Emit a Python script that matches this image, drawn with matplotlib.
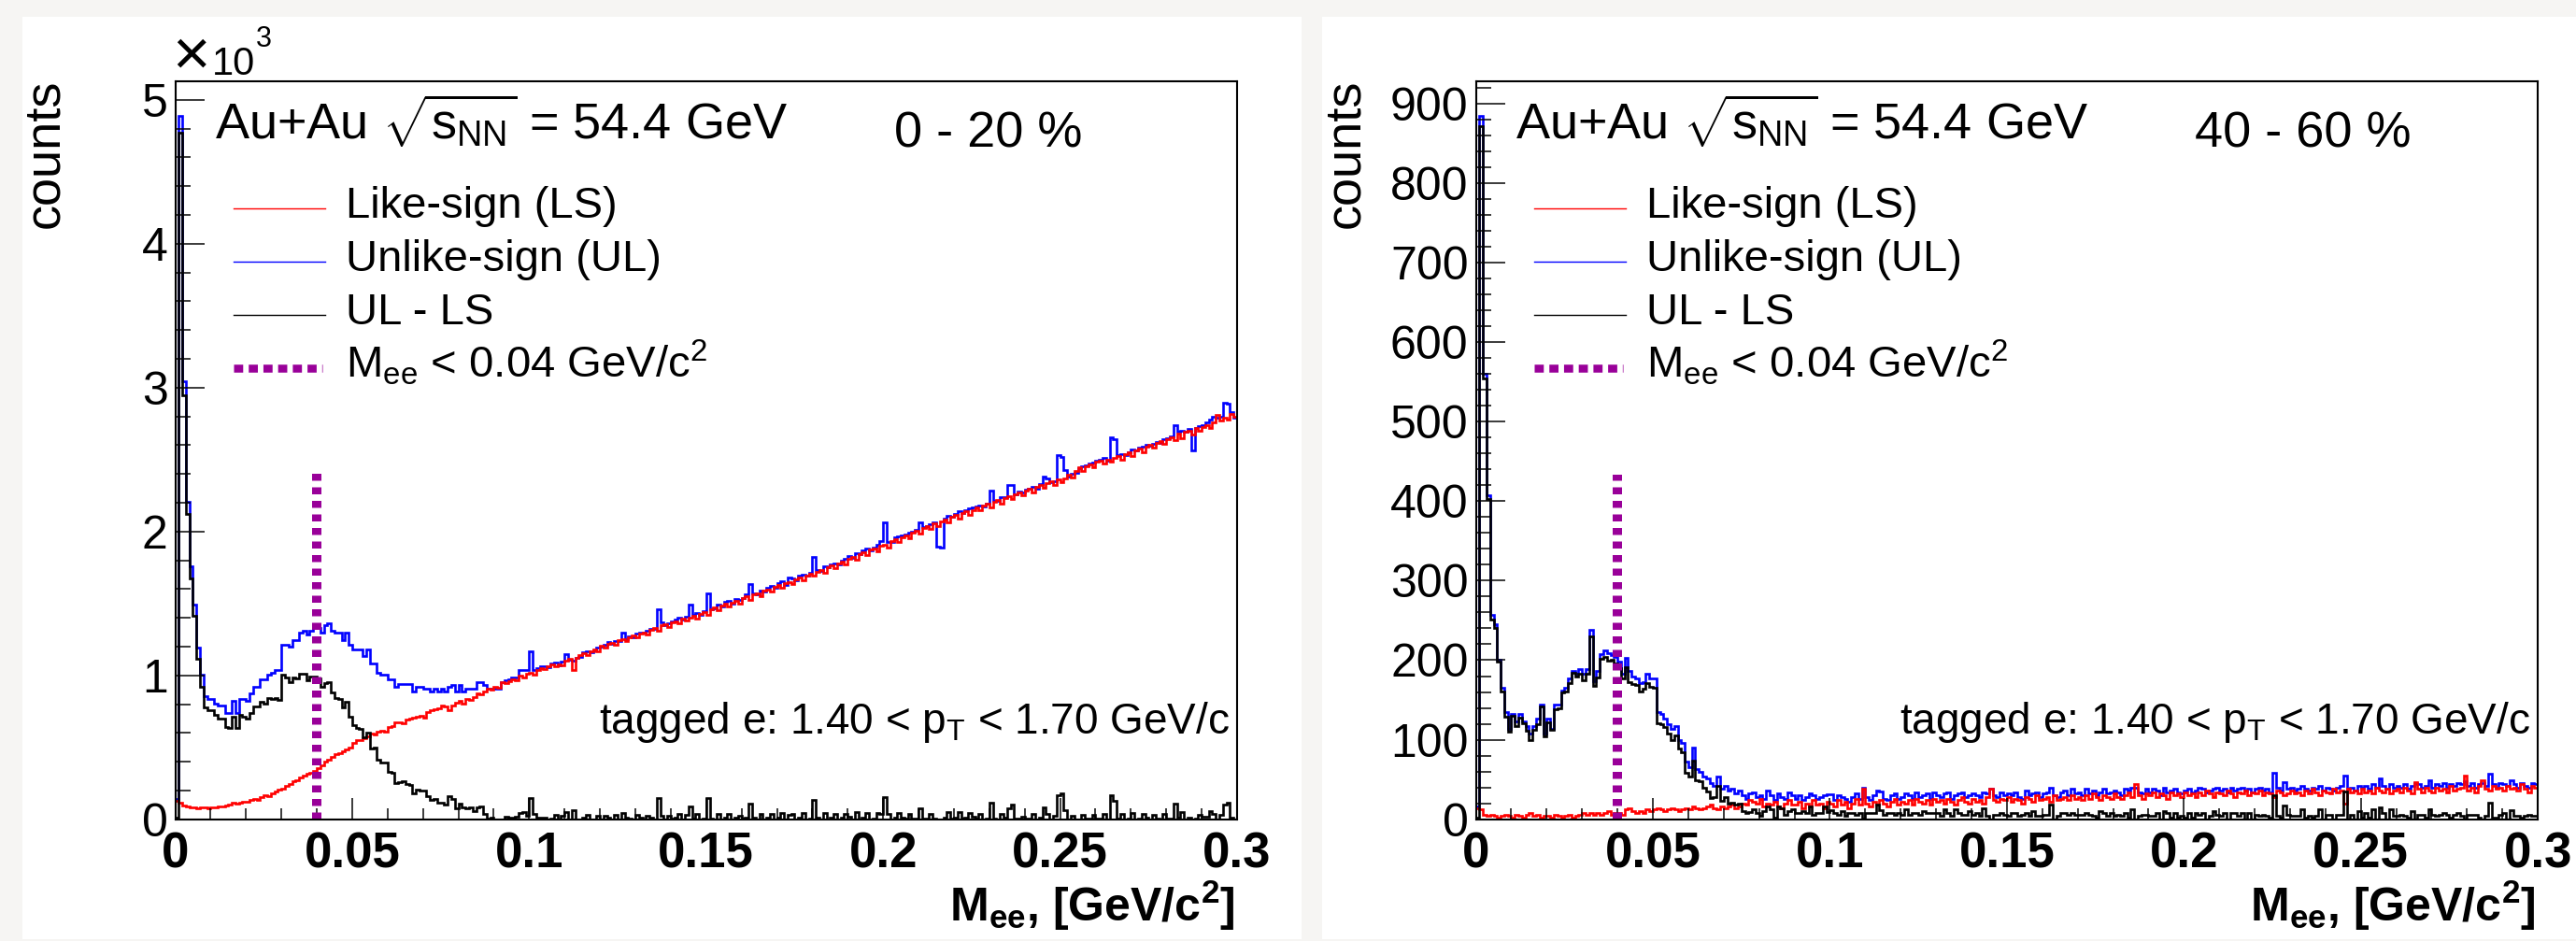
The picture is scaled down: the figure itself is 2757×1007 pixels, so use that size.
import numpy as np
import matplotlib
matplotlib.use("Agg")
import matplotlib.pyplot as plt
from matplotlib.patches import Rectangle
from matplotlib.ticker import MultipleLocator

# ---------------------------------------------------------------------------
# M_ee spectra, 300 bins of 1 MeV/c^2 from 0 to 0.3 GeV/c^2
# ---------------------------------------------------------------------------
mee_lo, mee_hi, n_bins = 0.0, 0.3, 300

# 0-20 % centrality
ls_central = [
    130, 118, 96, 88, 84, 80, 78, 82, 80, 78,
    84, 82, 88, 92, 98, 104, 112, 108, 116, 124,
    122, 132, 140, 136, 156, 166, 160, 182, 194, 204,
    210, 230, 248, 264, 270, 288, 302, 318, 324, 336,
    352, 374, 398, 412, 434, 454, 462, 470, 482, 500,
    530, 548, 552, 562, 578, 596, 590, 606, 612, 608,
    642, 648, 672, 676, 670, 690, 700, 706, 712, 720,
    708, 744, 756, 762, 772, 790, 786, 760, 790, 812,
    820, 806, 834, 828, 850, 872, 866, 890, 906, 898,
    918, 912, 950, 944, 962, 974, 968, 996, 986, 1012,
    1018, 1004, 1036, 1050, 1046, 1066, 1074, 1060, 1078, 1072,
    1100, 1112, 1040, 1124, 1140, 1152, 1138, 1170, 1182, 1164,
    1204, 1190, 1216, 1228, 1212, 1244, 1254, 1236, 1266, 1276,
    1262, 1292, 1300, 1284, 1318, 1330, 1312, 1346, 1354, 1336,
    1370, 1378, 1362, 1396, 1380, 1404, 1414, 1396, 1428, 1440,
    1422, 1456, 1470, 1452, 1482, 1496, 1478, 1506, 1518, 1500,
    1536, 1548, 1526, 1560, 1570, 1552, 1590, 1598, 1580, 1614,
    1628, 1606, 1640, 1650, 1632, 1668, 1680, 1658, 1694, 1708,
    1690, 1720, 1734, 1714, 1754, 1762, 1744, 1778, 1790, 1770,
    1812, 1824, 1802, 1844, 1858, 1836, 1872, 1884, 1864, 1898,
    1910, 1890, 1934, 1946, 1924, 1960, 1974, 1952, 1994, 2006,
    1986, 2024, 2036, 2016, 2054, 2040, 2070, 2080, 2062, 2100,
    2112, 2090, 2126, 2140, 2118, 2150, 2166, 2146, 2178, 2190,
    2168, 2206, 2218, 2196, 2230, 2244, 2224, 2258, 2270, 2250,
    2286, 2296, 2274, 2310, 2322, 2302, 2334, 2346, 2326, 2360,
    2340, 2370, 2392, 2376, 2420, 2444, 2418, 2456, 2466, 2448,
    2484, 2494, 2470, 2500, 2488, 2512, 2524, 2500, 2536, 2548,
    2526, 2562, 2574, 2552, 2588, 2600, 2580, 2616, 2628, 2606,
    2644, 2656, 2634, 2680, 2650, 2690, 2702, 2676, 2716, 2700,
    2724, 2740, 2722, 2760, 2812, 2772, 2790, 2776, 2818, 2800,
]
ul_central = [
    140, 4886, 3041, 2207, 1755, 1493, 1192, 1002, 856, 839,
    839, 806, 790, 790, 741, 741, 823, 741, 839, 839,
    823, 872, 921, 921, 970, 970, 1003, 1019, 1035, 1035,
    1215, 1215, 1199, 1248, 1248, 1297, 1313, 1281, 1313, 1330,
    1330, 1297, 1346, 1363, 1313, 1297, 1297, 1248, 1297, 1215,
    1183, 1183, 1183, 1134, 1183, 1085, 1085, 1019, 1003, 1003,
    970, 970, 921, 937, 937, 937, 937, 888, 921, 921,
    905, 905, 888, 905, 888, 905, 888, 921, 930, 887,
    930, 887, 909, 909, 909, 952, 952, 930, 909, 909,
    909, 909, 950, 963, 975, 985, 985, 1039, 1039, 1039,
    1168, 1040, 1050, 1062, 1060, 1058, 1080, 1090, 1070, 1094,
    1150, 1110, 1104, 1120, 1130, 1160, 1170, 1158, 1176, 1190,
    1200, 1214, 1230, 1218, 1240, 1236, 1300, 1250, 1270, 1262,
    1290, 1300, 1296, 1310, 1326, 1322, 1462, 1370, 1350, 1362,
    1376, 1390, 1400, 1388, 1410, 1490, 1420, 1430, 1418, 1446,
    1572, 1460, 1464, 1490, 1480, 1508, 1516, 1500, 1530, 1524,
    1540, 1560, 1636, 1570, 1566, 1590, 1584, 1610, 1620, 1608,
    1640, 1652, 1630, 1680, 1672, 1660, 1690, 1700, 1690, 1712,
    1826, 1730, 1728, 1760, 1750, 1774, 1780, 1772, 1800, 1810,
    1830, 1818, 1850, 1840, 1866, 1880, 1870, 1890, 1910, 1936,
    2064, 1930, 1928, 1960, 1966, 1970, 1980, 1990, 2000, 2010,
    2062, 2030, 2040, 2050, 2060, 1892, 1890, 2090, 2110, 2104,
    2120, 2140, 2130, 2150, 2160, 2168, 2172, 2180, 2176, 2196,
    2284, 2210, 2214, 2236, 2240, 2320, 2326, 2260, 2276, 2270,
    2290, 2300, 2310, 2300, 2330, 2384, 2370, 2340, 2350, 2530,
    2520, 2430, 2380, 2400, 2410, 2440, 2450, 2460, 2470, 2480,
    2490, 2500, 2510, 2490, 2652, 2640, 2530, 2540, 2530, 2550,
    2570, 2560, 2580, 2590, 2600, 2596, 2610, 2620, 2616, 2640,
    2650, 2660, 2740, 2690, 2700, 2690, 2710, 2560, 2720, 2730,
    2740, 2760, 2780, 2800, 2790, 2800, 2893, 2890, 2830, 2790,
]

# 40-60 % centrality
ls_periph = [
    14, 12, 6, 4, 6, 4, 2, 4, 6, 4,
    2, 6, 4, 2, 6, 8, 4, 6, 2, 4,
    4, 2, 6, 4, 2, 4, 6, 2, 4, 6,
    8, 6, 8, 6, 8, 6, 8, 10, 6, 8,
    8, 6, 12, 14, 10, 8, 10, 8, 12, 10,
    12, 14, 12, 10, 12, 14, 12, 10, 12, 14,
    12, 16, 14, 12, 14, 16, 18, 14, 12, 16,
    14, 16, 18, 14, 16, 20, 18, 24, 22, 20,
    26, 16, 20, 18, 22, 16, 14, 20, 24, 18,
    18, 22, 14, 20, 16, 24, 18, 20, 14, 22,
    20, 16, 24, 18, 22, 14, 20, 26, 18, 39,
    20, 16, 22, 18, 24, 20, 16, 22, 26, 18,
    22, 20, 24, 18, 26, 22, 20, 24, 18, 26,
    22, 24, 20, 26, 22, 18, 24, 28, 22, 20,
    26, 22, 24, 20, 28, 39, 24, 22, 26, 24,
    28, 22, 26, 24, 20, 28, 26, 22, 30, 24,
    26, 28, 22, 30, 24, 26, 28, 24, 30, 26,
    28, 24, 30, 26, 32, 28, 24, 30, 28, 26,
    32, 28, 26, 30, 34, 28, 44, 30, 26, 32,
    30, 34, 28, 32, 30, 26, 34, 30, 32, 28,
    34, 30, 32, 28, 34, 30, 36, 32, 28, 34,
    32, 30, 36, 32, 28, 34, 32, 36, 30, 34,
    32, 36, 30, 34, 32, 28, 36, 34, 30, 32,
    36, 32, 34, 30, 36, 32, 38, 34, 30, 36,
    34, 32, 38, 34, 36, 20, 38, 34, 36, 32,
    38, 34, 36, 32, 40, 36, 34, 38, 32, 36,
    38, 34, 40, 36, 32, 47, 38, 34, 40, 36,
    34, 40, 36, 38, 34, 42, 36, 38, 40, 55,
    36, 40, 34, 42, 49, 38, 36, 42, 38, 40,
    36, 42, 38, 40, 36, 44, 38, 34, 42, 40,
]
ul_periph = [
    16, 884, 560, 407, 257, 245, 200, 165, 135, 114,
    132, 123, 132, 123, 117, 108, 117, 126, 144, 108,
    126, 114, 144, 144, 162, 165, 177, 186, 183, 189,
    183, 189, 238, 174, 186, 208, 212, 209, 206, 204,
    198, 183, 203, 186, 180, 177, 171, 172, 183, 177,
    177, 135, 132, 126, 120, 114, 117, 99, 96, 72,
    66, 90, 63, 60, 54, 51, 45, 42, 54, 39,
    42, 36, 39, 33, 36, 30, 26, 33, 34, 28,
    30, 26, 36, 30, 24, 32, 28, 26, 34, 30,
    26, 30, 24, 28, 32, 30, 26, 28, 30, 31,
    31, 24, 30, 28, 26, 22, 28, 32, 26, 40,
    28, 24, 30, 36, 35, 26, 24, 30, 32, 26,
    28, 32, 30, 26, 34, 28, 30, 32, 26, 34,
    30, 28, 32, 34, 26, 30, 32, 34, 28, 30,
    32, 30, 28, 34, 32, 38, 30, 28, 34, 30,
    32, 30, 34, 28, 26, 36, 30, 32, 34, 28,
    32, 34, 40, 30, 28, 34, 36, 30, 38, 32,
    34, 30, 38, 32, 36, 30, 34, 38, 32, 34,
    36, 34, 30, 38, 36, 40, 40, 34, 32, 38,
    34, 38, 36, 30, 40, 34, 36, 38, 34, 32,
    36, 38, 34, 36, 40, 38, 34, 36, 38, 40,
    36, 38, 34, 40, 36, 38, 40, 36, 38, 34,
    38, 40, 36, 38, 34, 58, 40, 36, 47, 38,
    40, 36, 38, 42, 38, 36, 40, 38, 42, 36,
    40, 38, 36, 40, 42, 55, 38, 40, 36, 42,
    40, 42, 38, 44, 40, 51, 42, 38, 44, 40,
    42, 40, 44, 38, 42, 46, 44, 40, 42, 49,
    40, 44, 42, 46, 40, 44, 42, 46, 44, 48,
    42, 46, 40, 44, 46, 42, 57, 44, 40, 46,
    44, 42, 49, 44, 40, 46, 42, 40, 46, 44,
]

# top of the M_ee < 0.04 cut marker, in counts
cut_mee = 0.04
cut_top = [2400, 433]

centralities = ["0 - 20 %", "40 - 60 %"]
x_ticks = [0.0, 0.05, 0.1, 0.15, 0.2, 0.25, 0.3]
x_ticklabels = ["0", "0.05", "0.1", "0.15", "0.2", "0.25", "0.3"]
y_ticks = [[0, 1000, 2000, 3000, 4000, 5000], list(range(0, 1000, 100))]
y_ticklabels = [["0", "1", "2", "3", "4", "5"], [str(v) for v in range(0, 1000, 100)]]
y_minor = [200, 20]
legend_labels = ["Like-sign (LS)", "Unlike-sign (UL)", "UL - LS",
                 r"M$_{ee}$ < 0.04 GeV/c$^{2}$"]

# ---------------------------------------------------------------------------
W, H, DPI = 2757, 1007, 100
AX_BOTTOM, AX_TOP = 876.7, 86.7
AX_W = 1136.5
AX_H = AX_BOTTOM - AX_TOP
panel_left = [187.5, 1579.6]

C_LS, C_UL, C_SUB, C_CUT = "#ff0000", "#0000ff", "#000000", "#990099"
BG = "#f6f5f3"

plt.rcParams["font.family"] = ["Liberation Sans", "DejaVu Sans"]
plt.rcParams["mathtext.fontset"] = "custom"
plt.rcParams["mathtext.rm"] = "Liberation Sans"
plt.rcParams["mathtext.it"] = "Liberation Sans"
plt.rcParams["mathtext.bf"] = "Liberation Sans:bold"
plt.rcParams["axes.linewidth"] = 1.5

PT = 72.0 / DPI  # points per pixel
HIST_LW = 1.9

fig = plt.figure(figsize=(W / DPI, H / DPI), dpi=DPI, facecolor=BG)

# white canvases behind each pad
for x0, x1 in [(24, 1393), (1415, 2757)]:
    fig.patches.append(Rectangle((x0 / W, 1 - 1005 / H), (x1 - x0) / W, (1005 - 18) / H,
                                 transform=fig.transFigure, facecolor="white",
                                 edgecolor="none", zorder=-10))

edges = np.linspace(mee_lo, mee_hi, n_bins + 1)
spectra = [(ls_central, ul_central), (ls_periph, ul_periph)]


def rel(px, py):
    # pixel position laid out for the left pad -> axes fraction
    return (px - 187.5) / AX_W, (AX_BOTTOM - py) / AX_H


for i, (ls, ul) in enumerate(spectra):
    x_left = panel_left[i]
    ax = fig.add_axes([x_left / W, 1 - AX_BOTTOM / H, AX_W / W, AX_H / H])
    ls = np.asarray(ls, dtype=float)
    ul = np.asarray(ul, dtype=float)
    sub = ul - ls

    ax.stairs(ul, edges, color=C_UL, lw=HIST_LW, baseline=None)
    ax.stairs(ls, edges, color=C_LS, lw=HIST_LW, baseline=None)
    ax.stairs(sub, edges, color=C_SUB, lw=HIST_LW, baseline=None)
    ax.plot([cut_mee, cut_mee], [0, cut_top[i]], color=C_CUT, lw=10 * PT,
            dashes=(0.75, 0.7), dash_capstyle="butt")

    ax.set_xlim(mee_lo, mee_hi)
    ax.set_ylim(0, 1.05 * ul.max())

    ax.set_xticks(x_ticks)
    ax.set_xticklabels(x_ticklabels, fontsize=38, fontweight="bold")
    ax.xaxis.set_minor_locator(MultipleLocator(0.01))
    ax.set_yticks(y_ticks[i])
    ax.set_yticklabels(y_ticklabels[i], fontsize=36)
    ax.yaxis.set_minor_locator(MultipleLocator(y_minor[i]))
    ax.tick_params(axis="x", which="major", direction="in", length=23 * PT,
                   width=1.5 * PT, pad=13 * PT)
    ax.tick_params(axis="x", which="minor", direction="in", length=12 * PT,
                   width=1.5 * PT)
    ax.tick_params(axis="y", which="major", direction="in", length=31 * PT,
                   width=1.5 * PT, pad=8 * PT)
    ax.tick_params(axis="y", which="minor", direction="in", length=16 * PT,
                   width=1.5 * PT)

    tr = ax.transAxes
    ax.text(*rel(230, 150), r"Au+Au $\sqrt{s_{NN}}$ = 54.4 GeV",
            transform=tr, fontsize=39, va="baseline", ha="left")
    ax.text(*rel(957, 157), centralities[i], transform=tr,
            fontsize=39, va="baseline", ha="left")
    ax.text(*rel(1316, 785), r"tagged e: 1.40 < p$_{T}$ < 1.70 GeV/c",
            transform=tr, fontsize=33, va="baseline", ha="right")
    ax.text(*rel(1322, 986), r"$\mathbf{M}_{\mathbf{ee}}$, [GeV/c$^{\mathbf{2}}$]",
            transform=tr, fontsize=36, fontweight="bold",
            va="baseline", ha="right", clip_on=False)
    ax.text(*rel(48, 85), "counts", transform=tr, fontsize=39,
            rotation=90, va="top", ha="center", clip_on=False)
    if i == 0:
        ax.text(*rel(184, 80), "\u00d7", transform=tr, fontsize=50,
                va="baseline", ha="left", clip_on=False)
        ax.text(*rel(227, 80), "10", transform=tr, fontsize=30,
                va="baseline", ha="left", clip_on=False)
        ax.text(*rel(274, 50), "3", transform=tr, fontsize=22,
                va="baseline", ha="left", clip_on=False)

    # legend, drawn entry by entry
    styles = [dict(color=C_LS, lw=1.0), dict(color=C_UL, lw=1.0),
              dict(color=C_SUB, lw=1.0),
              dict(color=C_CUT, lw=8.5 * PT, dashes=(1.15, 0.7), dash_capstyle="butt")]
    for j, (label, st) in enumerate(zip(legend_labels, styles)):
        y_line = 223 + 57 * j
        x_end = 348 if j < 3 else 345
        (x0, y0), (x1, _) = rel(250, y_line), rel(x_end, y_line)
        ax.plot([x0, x1], [y0, y0], transform=tr, clip_on=False, **st)
        ax.text(*rel(370, 233 + 57 * j), label, transform=tr, fontsize=34,
                va="baseline", ha="left")

fig.savefig("out.png", dpi=DPI, facecolor=BG)
